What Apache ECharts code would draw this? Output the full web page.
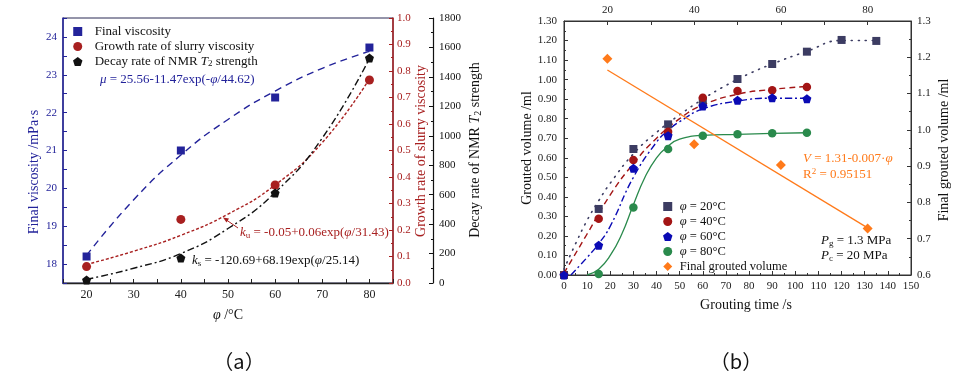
<!DOCTYPE html>
<html><head><meta charset="utf-8">
<script src="https://cdn.jsdelivr.net/npm/echarts@6/dist/echarts.min.js"></script>
<style>html,body{margin:0;padding:0;background:#fff}#c{width:980px;height:380px}</style>
</head><body><div id="c"></div>
<script>
// ---------- Panel (a) data ----------
const phiA = [20, 40, 60, 80];
const finalViscosity = [18.2, 21.0, 22.4, 23.72];
const growthRate = [0.062, 0.24, 0.37, 0.766];
const decayRate = [20, 170, 611, 1528];
const fitPhiA = [20, 30, 40, 50, 60, 70, 80];
const viscosityFit = [18.23, 19.70, 20.88, 21.82, 22.57, 23.17, 23.62];
const growthFit = [0.07, 0.12, 0.18, 0.26, 0.37, 0.53, 0.77];
const decayFit = [25, 100, 200, 370, 615, 985, 1525];

// ---------- Panel (b) data ----------
const time20 = [0, 15, 30, 45, 60, 75, 90, 105, 120, 135];
const vol20 = [0, 0.338, 0.645, 0.771, 0.89, 1.003, 1.08, 1.143, 1.203, 1.198];
const timeS = [0, 15, 30, 45, 60, 75, 90, 105];
const vol40 = [0, 0.288, 0.589, 0.733, 0.907, 0.942, 0.945, 0.962];
const vol60 = [0, 0.152, 0.546, 0.713, 0.865, 0.894, 0.907, 0.902];
const time80 = [15, 30, 45, 60, 75, 90, 105];
const vol80 = [0.005, 0.346, 0.645, 0.713, 0.72, 0.725, 0.728];
const phiB = [20, 40, 60, 80];
const finalGrouted = [1.196, 0.96, 0.903, 0.728];

const fitT20 = [0, 5, 10, 15, 20, 30, 40, 50, 60, 70, 80, 90, 105, 120, 135];
const fitV20 = [0.03, 0.16, 0.28, 0.38, 0.47, 0.62, 0.73, 0.82, 0.90, 0.97, 1.03, 1.08, 1.145, 1.20, 1.20];
const fitT40 = [0, 10, 20, 30, 40, 50, 60, 75, 90, 105];
const fitV40 = [0.01, 0.21, 0.41, 0.57, 0.70, 0.80, 0.87, 0.925, 0.95, 0.965];
const fitT60 = [3, 10, 15, 20, 30, 40, 45, 50, 60, 75, 90, 105];
const fitV60 = [0, 0.09, 0.16, 0.25, 0.50, 0.68, 0.74, 0.785, 0.85, 0.89, 0.905, 0.905];
const fitT80 = [10, 15, 20, 25, 30, 35, 40, 45, 50, 60, 75, 90, 105];
const fitV80 = [0, 0.03, 0.10, 0.21, 0.36, 0.50, 0.60, 0.66, 0.695, 0.715, 0.72, 0.725, 0.728];
const fitPhiB = [20, 80];
const fitGrouted = [1.165, 0.73];

const zip = (xs, ys) => xs.map((x, i) => [x, ys[i]]);

const SERIF = '"Liberation Serif", "DejaVu Serif", serif';
const BLUE = '#23239a', RED = '#a82020', BLK = '#111111';
const C20 = '#3c3c62', C40 = '#a31515', C60 = '#0a0ab4', C80 = '#2a8a4c', ORG = '#ff7a1a';
const SQUARE = 'path://M0,0L10,0L10,10L0,10Z';
const PENT = 'path://M50,0L97.6,34.5L79.4,90.5L20.6,90.5L2.4,34.5Z';
const DIAM = 'path://M5,0L10,5L5,10L0,5Z';

function lab(size, color) { return { fontFamily: SERIF, fontSize: size, color: color || '#222' }; }
function richSet(size, color) {
  return {
    i: { fontFamily: SERIF, fontSize: size, fontStyle: 'italic', color: color },
    s: { fontFamily: SERIF, fontSize: Math.round(size * 0.7), color: color, verticalAlign: 'bottom', padding: [Math.round(size * 0.45), 0, 0, 0] },
    n: { fontFamily: SERIF, fontSize: size, color: color }
  };
}
function gRich(size, color) {
  const f = (st, sz) => st + ' ' + sz + 'px ' + SERIF;
  return {
    i: { font: f('italic', size), fill: color },
    s: { font: f('normal', Math.round(size * 0.7)), fill: color, verticalAlign: 'bottom', padding: [Math.round(size * 0.45), 0, 0, 0] },
    u: { font: f('normal', Math.round(size * 0.7)), fill: color, verticalAlign: 'top', padding: [0, 0, Math.round(size * 0.45), 0] },
    n: { font: f('normal', size), fill: color }
  };
}
function gText(x, y, text, size, color, opts) {
  opts = opts || {};
  return {
    type: 'text', x: x, y: y, rotation: opts.rot || 0, z: 100, silent: true,
    style: {
      text: text, font: (opts.italic ? 'italic ' : '') + size + 'px ' + (opts.family || SERIF),
      fill: color, align: opts.align || 'left', verticalAlign: 'middle', rich: gRich(size, color)
    }
  };
}

const tickIn = (len) => ({ show: true, inside: true, length: len || 4 });
const pt = (c) => ({ color: c, opacity: 1 });

const option = {
  animation: false,
  backgroundColor: '#ffffff',
  grid: [
    { left: 63, top: 18, width: 330, height: 265, show: true, borderColor: '#2a2a55', borderWidth: 1, backgroundColor: 'transparent' },
    { left: 564, top: 21, width: 347, height: 254, show: true, borderColor: '#333', borderWidth: 1, backgroundColor: 'transparent' }
  ],
  xAxis: [
    { gridIndex: 0, type: 'value', min: 15, max: 85, interval: 5, position: 'bottom',
      axisLine: { show: true, lineStyle: { color: '#222', width: 1.3 } },
      axisTick: tickIn(4), splitLine: { show: false },
      axisLabel: Object.assign(lab(12), { margin: 6, formatter: v => (v % 10 === 0 ? String(v) : '') }) },
    { gridIndex: 1, type: 'value', min: 0, max: 150, interval: 10, position: 'bottom',
      axisLine: { show: true, lineStyle: { color: '#333', width: 1 } },
      axisTick: tickIn(4), minorTick: { show: true, splitNumber: 2, length: 2, lineStyle: { color: '#333' } },
      splitLine: { show: false },
      axisLabel: Object.assign(lab(11), { margin: 6, formatter: v => String(v) }) },
    { gridIndex: 1, type: 'value', min: 10, max: 90, interval: 10, position: 'top',
      axisLine: { show: true, lineStyle: { color: '#333', width: 1 } },
      axisTick: tickIn(4), splitLine: { show: false },
      axisLabel: Object.assign(lab(11), { margin: 5, formatter: v => (v % 20 === 0 && v > 10 && v < 90 ? String(v) : '') }) }
  ],
  yAxis: [
    { gridIndex: 0, type: 'value', min: 17.5, max: 24.5, interval: 0.5, position: 'left',
      axisLine: { show: true, lineStyle: { color: BLUE, width: 1.5 } },
      axisTick: Object.assign(tickIn(4), { lineStyle: { color: BLUE } }), splitLine: { show: false },
      axisLabel: Object.assign(lab(11, BLUE), { margin: 6, formatter: v => (Number.isInteger(v) ? String(v) : '') }) },
    { gridIndex: 0, type: 'value', min: 0, max: 1, interval: 0.1, position: 'right',
      axisLine: { show: true, lineStyle: { color: RED, width: 1.5 } },
      axisTick: Object.assign(tickIn(4), { lineStyle: { color: RED } }),
      minorTick: { show: true, splitNumber: 2, length: 2, lineStyle: { color: RED } },
      splitLine: { show: false },
      axisLabel: Object.assign(lab(11, RED), { margin: 4, formatter: v => v.toFixed(1) }) },
    { gridIndex: 0, type: 'value', min: 0, max: 1800, interval: 200, position: 'right', offset: 40,
      axisLine: { show: true, lineStyle: { color: BLK, width: 1.2 } },
      axisTick: tickIn(4), minorTick: { show: true, splitNumber: 2, length: 2, lineStyle: { color: BLK } },
      splitLine: { show: false },
      axisLabel: Object.assign(lab(11, BLK), { margin: 6, formatter: v => String(v) }) },
    { gridIndex: 1, type: 'value', min: 0, max: 1.3, interval: 0.1, position: 'left',
      axisLine: { show: true, lineStyle: { color: '#333', width: 1 } },
      axisTick: tickIn(4), minorTick: { show: true, splitNumber: 2, length: 2, lineStyle: { color: '#333' } },
      splitLine: { show: false },
      axisLabel: Object.assign(lab(11), { margin: 7, formatter: v => v.toFixed(2) }) },
    { gridIndex: 1, type: 'value', min: 0.6, max: 1.3, interval: 0.1, position: 'right',
      axisLine: { show: true, lineStyle: { color: '#333', width: 1 } },
      axisTick: tickIn(4), minorTick: { show: true, splitNumber: 2, length: 2, lineStyle: { color: '#333' } },
      splitLine: { show: false },
      axisLabel: Object.assign(lab(11), { margin: 6, formatter: v => v.toFixed(1) }) }
  ],
  legend: [
    { left: 68, top: 20, orient: 'vertical', itemWidth: 24, itemHeight: 9, itemGap: 2, selectedMode: false,
      textStyle: { fontFamily: SERIF, fontSize: 13, color: '#111', lineHeight: 13, rich: richSet(13, '#111') },
      formatter: n => (n.indexOf('NMR') >= 0 ? 'Decay rate of NMR {i|T}{s|2} strength' : n),
      data: [
        { name: 'Final viscosity', icon: SQUARE },
        { name: 'Growth rate of slurry viscosity', icon: 'circle' },
        { name: 'Decay rate of NMR T2 strength', icon: PENT }
      ] },
    { left: 658, top: 195, orient: 'vertical', itemWidth: 14, itemHeight: 9, itemGap: 2, selectedMode: false,
      textStyle: { fontFamily: SERIF, fontSize: 12.5, color: '#111', lineHeight: 13, rich: richSet(12.5, '#111') },
      formatter: n => (n.indexOf('phi') === 0 ? '{i|φ} = ' + n.slice(4) + '°C' : n),
      data: [
        { name: 'phi 20', icon: SQUARE },
        { name: 'phi 40', icon: 'circle' },
        { name: 'phi 60', icon: PENT },
        { name: 'phi 80', icon: 'circle' },
        { name: 'Final grouted volume', icon: DIAM }
      ] }
  ],
  series: [
    // ---- panel (a) fits ----
    { type: 'line', name: 'fitVisc', xAxisIndex: 0, yAxisIndex: 0, data: zip(fitPhiA, viscosityFit), smooth: true, symbol: 'none', silent: true,
      lineStyle: { color: BLUE, width: 1.4, type: [7, 5] }, z: 2 },
    { type: 'line', name: 'fitGrowth', xAxisIndex: 0, yAxisIndex: 1, data: zip(fitPhiA, growthFit), smooth: true, symbol: 'none', silent: true,
      lineStyle: { color: RED, width: 1.4, type: [3, 2] }, z: 2 },
    { type: 'line', name: 'fitDecay', xAxisIndex: 0, yAxisIndex: 2, data: zip(fitPhiA, decayFit), smooth: true, symbol: 'none', silent: true,
      lineStyle: { color: BLK, width: 1.4, type: [7, 3, 2, 3] }, z: 2 },
    // ---- panel (a) points ----
    { type: 'scatter', name: 'Final viscosity', xAxisIndex: 0, yAxisIndex: 0, data: zip(phiA, finalViscosity),
      symbol: SQUARE, symbolSize: 8, itemStyle: pt(BLUE), z: 5 },
    { type: 'scatter', name: 'Growth rate of slurry viscosity', xAxisIndex: 0, yAxisIndex: 1, data: zip(phiA, growthRate),
      symbol: 'circle', symbolSize: 9, itemStyle: pt(RED), z: 5 },
    { type: 'scatter', name: 'Decay rate of NMR T2 strength', xAxisIndex: 0, yAxisIndex: 2, data: zip(phiA, decayRate),
      symbol: PENT, symbolSize: 9, itemStyle: pt(BLK), z: 5 },
    // ---- panel (b) fits ----
    { type: 'line', name: 'fit20', xAxisIndex: 1, yAxisIndex: 3, data: zip(fitT20, fitV20), smooth: true, symbol: 'none', silent: true,
      lineStyle: { color: C20, width: 1.6, type: [1, 6], cap: 'round' }, z: 2 },
    { type: 'line', name: 'fit40', xAxisIndex: 1, yAxisIndex: 3, data: zip(fitT40, fitV40), smooth: true, symbol: 'none', silent: true,
      lineStyle: { color: C40, width: 1.4, type: [6, 4] }, z: 2 },
    { type: 'line', name: 'fit60', xAxisIndex: 1, yAxisIndex: 3, data: zip(fitT60, fitV60), smooth: true, symbol: 'none', silent: true,
      lineStyle: { color: C60, width: 1.4, type: [7, 3, 2, 3] }, z: 2 },
    { type: 'line', name: 'fit80', xAxisIndex: 1, yAxisIndex: 3, data: zip(fitT80, fitV80), smooth: true, symbol: 'none', silent: true,
      lineStyle: { color: C80, width: 1.3, type: 'solid' }, z: 2 },
    { type: 'line', name: 'fitFinal', xAxisIndex: 2, yAxisIndex: 4, data: zip(fitPhiB, fitGrouted), symbol: 'none', silent: true,
      lineStyle: { color: ORG, width: 1.3, type: 'solid' }, z: 2 },
    // ---- panel (b) points ----
    { type: 'scatter', name: 'phi 20', xAxisIndex: 1, yAxisIndex: 3, data: zip(time20, vol20),
      symbol: SQUARE, symbolSize: 8, itemStyle: pt(C20), z: 5 },
    { type: 'scatter', name: 'phi 40', xAxisIndex: 1, yAxisIndex: 3, data: zip(timeS, vol40),
      symbol: 'circle', symbolSize: 8.5, itemStyle: pt(C40), z: 6 },
    { type: 'scatter', name: 'phi 60', xAxisIndex: 1, yAxisIndex: 3, data: zip(timeS, vol60),
      symbol: PENT, symbolSize: 9, itemStyle: pt(C60), z: 7 },
    { type: 'scatter', name: 'phi 80', xAxisIndex: 1, yAxisIndex: 3, data: zip(time80, vol80),
      symbol: 'circle', symbolSize: 8.5, itemStyle: pt(C80), z: 7 },
    { type: 'scatter', name: 'Final grouted volume', xAxisIndex: 2, yAxisIndex: 4, data: zip(phiB, finalGrouted),
      symbol: DIAM, symbolSize: 10, itemStyle: pt(ORG), z: 8 }
  ],
  graphic: [
    // axis names panel (a)
    gText(34, 172, 'Final viscosity /mPa·s', 14, BLUE, { rot: Math.PI / 2, align: 'center' }),
    gText(421, 151, 'Growth rate of slurry viscosity', 14, RED, { rot: Math.PI / 2, align: 'center' }),
    gText(475, 150, 'Decay rate of NMR {i|T}{s|2} strength', 14, BLK, { rot: Math.PI / 2, align: 'center' }),
    gText(228, 315, '{i|φ} /°C', 14, BLK, { align: 'center' }),
    // equations panel (a)
    gText(100, 80, '{i|μ} = 25.56-11.47exp(-{i|φ}/44.62)', 13, BLUE),
    gText(240, 233, '{i|k}{s|u} = -0.05+0.06exp({i|φ}/31.43)', 13, RED),
    gText(192, 261, '{i|k}{s|s} = -120.69+68.19exp({i|φ}/25.14)', 13, BLK),
    { type: 'line', z: 100, silent: true, shape: { x1: 238, y1: 228, x2: 225, y2: 219 }, style: { stroke: RED, lineWidth: 1 } },
    { type: 'polygon', z: 100, silent: true, shape: { points: [[223, 217.5], [229, 218.5], [226.5, 222.5]] }, style: { fill: RED } },
    // axis names panel (b)
    gText(527, 148, 'Grouted volume /ml', 14, BLK, { rot: Math.PI / 2, align: 'center' }),
    gText(944, 150, 'Final grouted volume /ml', 14, BLK, { rot: Math.PI / 2, align: 'center' }),
    gText(746, 305, 'Grouting time /s', 14, BLK, { align: 'center' }),
    // equations panel (b)
    gText(803, 159, '{i|V} = 1.31-0.007·{i|φ}', 13, ORG),
    gText(803, 175, 'R{u|2} = 0.95151', 13, ORG),
    gText(821, 241, '{i|P}{s|g} = 1.3 MPa', 13, BLK),
    gText(821, 256, '{i|P}{s|c} = 20 MPa', 13, BLK),
    // captions
    gText(239, 361, '（a）', 20, BLK, { align: 'center', family: '"Noto Sans CJK SC", ' + SERIF }),
    gText(736, 361, '（b）', 20, BLK, { align: 'center', family: '"Noto Sans CJK SC", ' + SERIF })
  ]
};

const chart = echarts.init(document.getElementById('c'), null, { renderer: 'canvas' });
chart.setOption(option);
</script></body></html>
